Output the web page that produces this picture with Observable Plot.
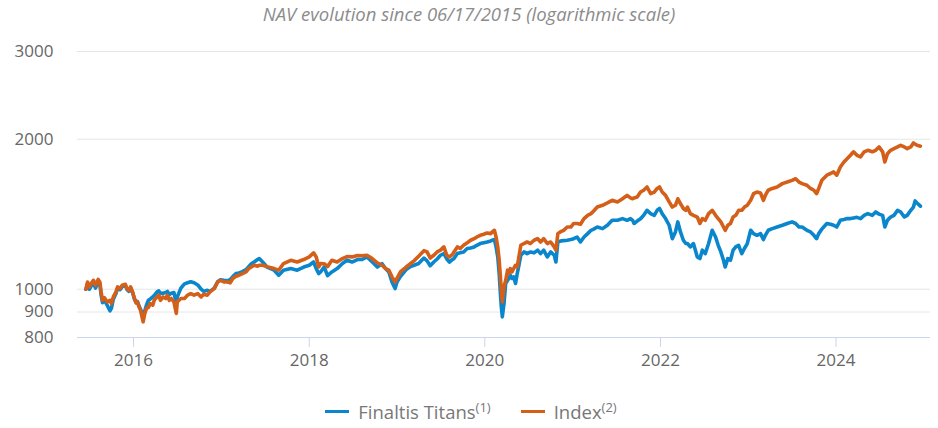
<!DOCTYPE html>
<html>
<head>
<meta charset="utf-8">
<script src="https://cdn.jsdelivr.net/npm/d3@7"></script>
<script src="https://cdn.jsdelivr.net/npm/@observablehq/plot@0.6"></script>
<style>
  html, body { margin: 0; padding: 0; background: #fff; }
  #wrap { position: relative; width: 938px; height: 428px; overflow: hidden; font-family: "Open Sans", sans-serif; }
  #title { position: absolute; top: 1px; left: 0; width: 938px; text-align: center; font-style: italic; font-size: 18.5px; color: #8c8c8c; }
  #chart { position: absolute; top: 0; left: 0; }
  #legend { position: absolute; top: 399px; left: 0; width: 938px; display: flex; justify-content: center; gap: 30px; font-size: 18.5px; color: #777; padding-left: 2px; }
  .item { display: flex; align-items: center; }
  .sw { display: inline-block; width: 24px; height: 3px; margin-right: 9px; }
  sup { font-size: 13px; vertical-align: 7px; line-height: 0; }
</style>
</head>
<body>
<div id="wrap">
  <div id="title"></div>
  <div id="chart"></div>
  <div id="legend"></div>
</div>
<script>
const titleText = "NAV evolution since 06/17/2015 (logarithmic scale)";
const seriesNames = ["Finaltis Titans", "Index"];
const seriesNotes = ["(1)", "(2)"];
const seriesColors = ["#0a86cc", "#d45f19"];
const yTicks = [800, 900, 1000, 2000, 3000];
const xTickYears = [2016, 2018, 2020, 2022, 2024];

const dates = [
"2015-06-17","2015-06-24","2015-07-01","2015-07-09","2015-07-18","2015-07-27","2015-08-07","2015-08-14","2015-08-19","2015-08-25",
"2015-09-02","2015-09-13","2015-09-25","2015-10-01","2015-10-09","2015-10-20","2015-10-27","2015-11-06","2015-11-15","2015-11-28",
"2015-12-05","2015-12-13","2015-12-20","2015-12-28","2016-01-05","2016-01-12","2016-01-17","2016-01-24","2016-01-30","2016-02-10",
"2016-02-17","2016-02-24","2016-03-03","2016-03-10","2016-03-21","2016-03-28","2016-04-08","2016-04-15","2016-04-22","2016-05-03",
"2016-05-14","2016-05-21","2016-05-29","2016-06-06","2016-06-17","2016-06-27","2016-07-01","2016-07-16","2016-07-31","2016-08-13",
"2016-08-26","2016-09-09","2016-09-24","2016-10-08","2016-10-19","2016-11-03","2016-11-14","2016-12-02","2016-12-16","2016-12-28",
"2017-01-11","2017-01-26","2017-02-06","2017-02-17","2017-03-02","2017-03-15","2017-03-29","2017-04-13","2017-04-24","2017-05-05",
"2017-05-18","2017-05-31","2017-06-07","2017-06-21","2017-07-09","2017-08-08","2017-08-27","2017-09-16","2017-10-16","2017-11-12",
"2017-12-09","2018-01-01","2018-01-19","2018-01-30","2018-02-09","2018-02-17","2018-03-04","2018-03-18","2018-04-05","2018-04-27",
"2018-05-19","2018-06-07","2018-06-28","2018-07-20","2018-08-09","2018-08-29","2018-09-20","2018-10-11","2018-10-31","2018-11-14",
"2018-11-28","2018-12-11","2018-12-24","2019-01-01","2019-01-15","2019-02-08","2019-02-26","2019-03-13","2019-04-01","2019-04-23",
"2019-05-06","2019-05-19","2019-06-03","2019-06-17","2019-07-01","2019-07-15","2019-07-27","2019-08-07","2019-08-20","2019-08-26",
"2019-09-09","2019-09-21","2019-10-05","2019-10-20","2019-11-03","2019-11-18","2019-11-29","2019-12-13","2019-12-28","2020-01-11",
"2020-01-26","2020-02-01","2020-02-10","2020-02-17","2020-02-24","2020-03-01","2020-03-06","2020-03-10","2020-03-14","2020-03-21",
"2020-03-28","2020-04-05","2020-04-10","2020-04-16","2020-04-23","2020-04-30","2020-05-08","2020-05-15","2020-05-22","2020-05-30",
"2020-06-12","2020-06-25","2020-07-09","2020-07-24","2020-08-08","2020-08-20","2020-09-02","2020-09-17","2020-10-01","2020-10-16",
"2020-10-23","2020-10-31","2020-11-10","2020-11-24","2020-12-09","2020-12-24","2021-01-05","2021-01-19","2021-02-02","2021-02-17",
"2021-03-04","2021-03-18","2021-03-29","2021-04-13","2021-05-05","2021-05-25","2021-06-14","2021-07-06","2021-07-27","2021-08-15",
"2021-08-29","2021-09-07","2021-09-13","2021-09-26","2021-10-10","2021-10-23","2021-11-06","2021-11-21","2021-12-06","2021-12-18",
"2021-12-28","2022-01-08","2022-01-22","2022-02-06","2022-02-19","2022-03-04","2022-03-14","2022-03-25","2022-04-06","2022-04-16",
"2022-04-23","2022-05-05","2022-05-18","2022-06-03","2022-06-14","2022-06-24","2022-07-06","2022-07-20","2022-08-04","2022-08-18",
"2022-08-29","2022-09-09","2022-09-20","2022-09-27","2022-10-08","2022-10-19","2022-10-30","2022-11-10","2022-11-22","2022-12-05",
"2022-12-16","2022-12-28","2023-01-11","2023-01-23","2023-02-06","2023-02-21","2023-03-05","2023-03-13","2023-03-25","2023-04-11",
"2023-05-01","2023-05-23","2023-06-12","2023-07-02","2023-07-17","2023-07-31","2023-08-13","2023-09-02","2023-09-17","2023-10-01",
"2023-10-12","2023-10-21","2023-11-03","2023-11-24","2023-12-09","2023-12-22","2024-01-04","2024-01-19","2024-02-03","2024-02-17",
"2024-03-01","2024-03-14","2024-03-28","2024-04-12","2024-04-27","2024-05-12","2024-05-31","2024-06-14","2024-06-28","2024-07-13",
"2024-07-22","2024-08-02","2024-08-15","2024-08-29","2024-09-13","2024-09-26","2024-10-11","2024-10-23","2024-11-07","2024-11-18",
"2024-11-25","2024-12-03","2024-12-17"
];

const titans = [
1000,1025,1000,1015,1030,1005,1035,1025,975,940,
950,930,905,915,955,980,1005,998,1012,1018,
998,990,1005,985,955,940,945,925,912,880,
905,930,950,955,965,972,988,992,980,982,
985,990,975,982,985,935,965,1005,1025,1030,
1035,1030,1020,1000,990,995,990,1005,1035,1045,
1042,1040,1045,1060,1075,1078,1085,1095,1110,1125,
1135,1147,1152,1134,1108,1092,1067,1092,1100,1092,
1108,1117,1134,1100,1075,1083,1108,1065,1083,1100,
1126,1143,1134,1147,1147,1161,1134,1108,1125,1100,
1083,1034,1003,1034,1060,1095,1110,1117,1126,1155,
1140,1115,1134,1150,1170,1179,1150,1134,1148,1152,
1179,1183,1188,1207,1210,1216,1225,1235,1240,1244,
1250,1254,1258,1216,1161,1075,980,921,880,936,
1027,1042,1051,1067,1051,1059,1027,1075,1117,1170,
1188,1179,1188,1183,1198,1179,1198,1161,1188,1170,
1134,1244,1249,1252,1254,1258,1263,1273,1244,1273,
1293,1313,1320,1333,1323,1344,1375,1375,1386,1375,
1386,1375,1355,1370,1385,1407,1440,1418,1407,1440,
1452,1418,1386,1344,1263,1303,1365,1303,1254,1235,
1235,1216,1235,1161,1152,1198,1179,1235,1313,1273,
1225,1188,1143,1108,1152,1143,1198,1216,1225,1179,
1207,1235,1313,1293,1283,1293,1258,1283,1313,1323,
1333,1344,1355,1365,1355,1333,1333,1313,1303,1283,
1263,1293,1320,1355,1350,1344,1333,1375,1380,1386,
1386,1390,1394,1386,1407,1418,1407,1429,1415,1407,
1333,1375,1396,1407,1440,1429,1396,1407,1440,1462,
1504,1490,1468
];

const index = [
1000,1034,1011,1027,1042,1019,1046,1034,988,950,
962,943,950,936,965,988,1011,1003,1019,1023,
1003,995,1011,988,958,939,943,921,908,860,
894,915,919,936,929,953,965,973,950,965,
958,973,950,958,943,894,943,958,958,973,
980,973,980,965,977,973,988,1003,1034,1042,
1034,1034,1030,1051,1062,1067,1075,1083,1100,1108,
1117,1112,1117,1117,1110,1100,1092,1126,1143,1134,
1147,1161,1183,1161,1108,1126,1125,1110,1143,1134,
1152,1163,1161,1168,1167,1170,1152,1130,1117,1100,
1092,1059,1034,1051,1083,1108,1126,1140,1165,1195,
1188,1155,1170,1188,1198,1216,1170,1161,1175,1188,
1216,1207,1225,1239,1254,1263,1273,1283,1289,1297,
1293,1303,1313,1273,1216,1143,1059,995,943,1011,
1042,1092,1075,1100,1083,1100,1117,1108,1161,1225,
1235,1244,1235,1254,1263,1244,1263,1235,1244,1216,
1198,1293,1303,1313,1333,1333,1355,1355,1350,1386,
1407,1418,1435,1462,1474,1490,1508,1497,1519,1543,
1525,1519,1525,1531,1567,1580,1604,1555,1567,1593,
1604,1567,1543,1497,1462,1474,1519,1486,1452,1440,
1462,1418,1407,1396,1355,1386,1375,1418,1440,1407,
1386,1365,1333,1313,1344,1355,1396,1407,1440,1440,
1462,1474,1508,1555,1567,1560,1508,1543,1580,1593,
1604,1629,1641,1654,1666,1641,1629,1617,1593,1580,
1555,1593,1654,1694,1707,1720,1694,1759,1800,1829,
1857,1887,1857,1843,1887,1900,1887,1900,1930,1887,
1800,1871,1900,1915,1930,1945,1930,1915,1930,1966,
1955,1945,1937
];

const parse = d3.utcParse("%Y-%m-%d");
const rows = dates.map((d, i) => ({ date: parse(d), titans: titans[i], index: index[i] }));
const xTicks = xTickYears.map(y => new Date(Date.UTC(y, 0, 1)));
const gridTicks = yTicks.filter(v => v !== yTicks[0]);

document.getElementById("title").textContent = titleText;

const chart = Plot.plot({
  width: 938,
  height: 390,
  marginTop: 51,
  marginBottom: 53,
  marginLeft: 77,
  marginRight: 8,
  style: { fontFamily: "'Open Sans', sans-serif", fontSize: "16px", background: "transparent", overflow: "visible" },
  x: { type: "utc", domain: [parse("2015-05-13"), parse("2025-01-28")] },
  y: { type: "log", domain: [800, 3000] },
  marks: [
    Plot.ruleY(gridTicks, { stroke: "#e6e6e6", strokeWidth: 1 }),
    Plot.ruleY([yTicks[0]], { stroke: "#ccd6eb", strokeWidth: 1 }),
    Plot.axisY(yTicks, { tickSize: 0, tickPadding: 24, tickFormat: d => String(d), fill: "#666", fontSize: 17 }),
    Plot.axisX(xTicks, { tickSize: 10, tickPadding: 6, stroke: "#ccd6eb", fill: "#666", tickFormat: d3.utcFormat("%Y"), fontSize: 17 }),
    Plot.line(rows, { x: "date", y: "titans", stroke: seriesColors[0], strokeWidth: 3.6, strokeLinejoin: "round", strokeLinecap: "round" }),
    Plot.line(rows, { x: "date", y: "index", stroke: seriesColors[1], strokeWidth: 3.6, strokeLinejoin: "round", strokeLinecap: "round" })
  ]
});
document.getElementById("chart").appendChild(chart);

const legend = document.getElementById("legend");
seriesNames.forEach((name, i) => {
  const item = document.createElement("div");
  item.className = "item";
  const sw = document.createElement("span");
  sw.className = "sw";
  sw.style.background = seriesColors[i];
  const label = document.createElement("span");
  label.textContent = name;
  const sup = document.createElement("sup");
  sup.textContent = seriesNotes[i];
  label.appendChild(sup);
  item.appendChild(sw);
  item.appendChild(label);
  legend.appendChild(item);
});
</script>
</body>
</html>
